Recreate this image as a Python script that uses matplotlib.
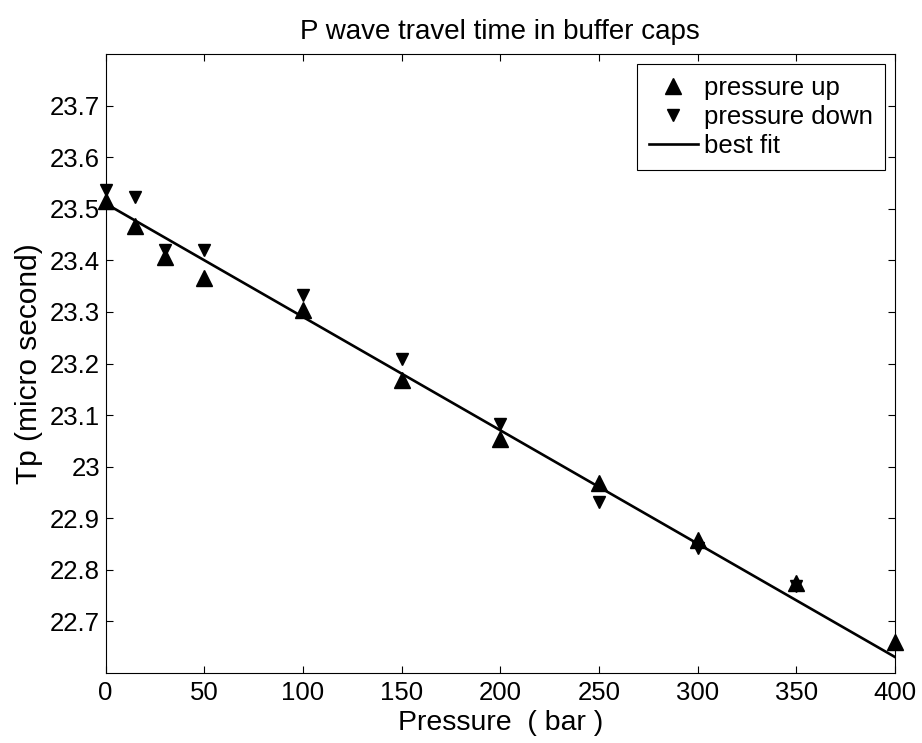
import matplotlib
matplotlib.use("Agg")
import matplotlib.pyplot as plt

plt.rcParams['font.family'] = ['Liberation Sans', 'DejaVu Sans']

# datos
pressure_up = [0, 15, 30, 50, 100, 150, 200, 250, 300, 350, 400]
tp_up = [23.516, 23.466, 23.407, 23.366, 23.304, 23.168, 23.053, 22.969, 22.857, 22.775, 22.661]

pressure_down = [0, 15, 30, 50, 100, 150, 200, 250, 300, 350]
tp_down = [23.537, 23.523, 23.421, 23.421, 23.333, 23.209, 23.082, 22.931, 22.843, 22.768]

fit_pressure = [0, 400]
fit_tp = [23.51, 22.631]

x_ticks = [0, 50, 100, 150, 200, 250, 300, 350, 400]
y_ticks = [22.7, 22.8, 22.9, 23.0, 23.1, 23.2, 23.3, 23.4, 23.5, 23.6, 23.7]
y_tick_labels = ['22.7', '22.8', '22.9', '23', '23.1', '23.2', '23.3', '23.4', '23.5', '23.6', '23.7']

fig = plt.figure(figsize=(9.22, 7.43), dpi=100)
ax = fig.add_axes([0.1146, 0.0942, 0.8561, 0.8331])

# Dibujar
ax.plot(pressure_up, tp_up, linestyle='none', marker='^', color='black',
        markersize=11, label='pressure up', clip_on=False, zorder=3)
ax.plot(pressure_down, tp_down, linestyle='none', marker='v', color='black',
        markersize=8.5, label='pressure down', clip_on=False, zorder=3)
ax.plot(fit_pressure, fit_tp, color='black', linewidth=1.9, label='best fit')

ax.set_xlim(0, 400)
ax.set_ylim(22.6, 23.8)
ax.set_xticks(x_ticks)
ax.set_yticks(y_ticks)
ax.set_yticklabels(y_tick_labels)

ax.tick_params(direction='in', top=True, right=True, length=5, width=0.8,
               labelsize=18.5)
ax.tick_params(axis='x', pad=6)
ax.tick_params(axis='y', pad=4)
for s in ax.spines.values():
    s.set_linewidth(0.8)

# Etiquetas
ax.set_xlabel('Pressure  ( bar )', fontsize=20.5, labelpad=3)
ax.set_ylabel('Tp (micro second)', fontsize=21.5, labelpad=5)
ax.set_title('P wave travel time in buffer caps', fontsize=20, pad=11)

leg = ax.legend(loc='upper right', fontsize=18.5, frameon=True, fancybox=False,
                edgecolor='black', framealpha=1, borderaxespad=0.4,
                handlelength=1.9, handletextpad=0.25, labelspacing=0.2,
                borderpad=0.45)
leg.get_frame().set_linewidth(0.8)

fig.savefig('out.png', dpi=100)
